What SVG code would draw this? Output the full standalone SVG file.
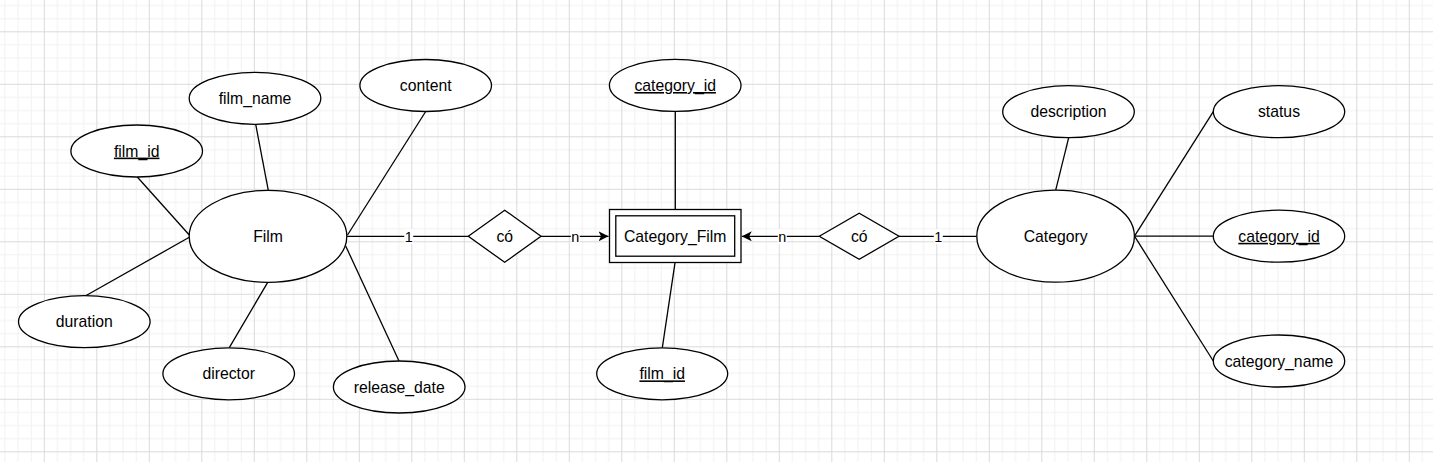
<svg xmlns="http://www.w3.org/2000/svg" width="1433" height="462" viewBox="0 0 1433 462">
<style>
.sh{fill:#fff;stroke:#000;stroke-width:1.3}
.ln{fill:none;stroke:#000;stroke-width:1.3}
.t{font-family:"Liberation Sans",Arial,Helvetica,sans-serif;font-size:15.75px;fill:#000;text-anchor:middle}
.u{text-decoration:underline}
.lb{font-family:"Liberation Sans",Arial,Helvetica,sans-serif;font-size:14.4px;fill:#000;text-anchor:middle}
.lbg{fill:#fff}
</style>
<defs>
<pattern id="grid" patternUnits="userSpaceOnUse" x="43.8" y="31.3" width="52.5" height="52.5">
<rect x="13.125" y="0" width="1" height="52.5" fill="#f1f1f1"/>
<rect x="26.25" y="0" width="1" height="52.5" fill="#f1f1f1"/>
<rect x="39.375" y="0" width="1" height="52.5" fill="#f1f1f1"/>
<rect x="0" y="13.125" width="52.5" height="1" fill="#f1f1f1"/>
<rect x="0" y="26.25" width="52.5" height="1" fill="#f1f1f1"/>
<rect x="0" y="39.375" width="52.5" height="1" fill="#f1f1f1"/>
<rect x="0" y="0" width="1" height="52.5" fill="#dadada"/>
<rect x="0" y="0" width="52.5" height="1" fill="#dadada"/>
</pattern>
<marker id="arr" markerUnits="userSpaceOnUse" viewBox="0 0 10 10" refX="10" refY="5" markerWidth="10" markerHeight="10" orient="auto">
<path d="M10,5 L0,0 L2.6,5 L0,10 Z" fill="#000"/>
</marker>
</defs>
<rect width="1433" height="462" fill="#fff"/>
<rect width="1433" height="462" fill="url(#grid)"/>

<g id="connectors">
<line class="ln" x1="255.7" y1="124.3" x2="268.3" y2="190.3"/>
<line class="ln" x1="425.7" y1="111.5" x2="347.5" y2="235"/>
<line class="ln" x1="137.3" y1="177" x2="189.3" y2="235"/>
<line class="ln" x1="85.7" y1="295.7" x2="189.3" y2="237.3"/>
<line class="ln" x1="229.3" y1="347.7" x2="267.7" y2="282.3"/>
<line class="ln" x1="399" y1="361" x2="345.7" y2="246"/>
<line class="ln" x1="347" y1="236.3" x2="468.3" y2="236.3"/>
<line class="ln" x1="541" y1="236.3" x2="608.5" y2="236.3" marker-end="url(#arr)"/>
<line class="ln" x1="819.3" y1="236.3" x2="741.8" y2="236.3" marker-end="url(#arr)"/>
<line class="ln" x1="899" y1="236.3" x2="976.8" y2="236.3"/>
<line class="ln" x1="675.3" y1="111.5" x2="675.3" y2="209.5"/>
<line class="ln" x1="675" y1="262.8" x2="662.3" y2="347.8"/>
<line class="ln" x1="1068.7" y1="137.7" x2="1055.7" y2="190.2"/>
<line class="ln" x1="1134.5" y1="236.2" x2="1213.3" y2="111.7"/>
<line class="ln" x1="1134.5" y1="236.2" x2="1213.3" y2="236.2"/>
<line class="ln" x1="1134.5" y1="236.2" x2="1213.3" y2="361"/>
<rect class="lbg" x="404.2" y="229" width="9" height="15"/>
<text class="lb" x="408.7" y="241.5">1</text>
<rect class="lbg" x="570.8" y="229" width="9" height="15"/>
<text class="lb" x="575.3" y="241.5">n</text>
<rect class="lbg" x="777.8" y="229" width="9" height="15"/>
<text class="lb" x="782.3" y="241.5">n</text>
<rect class="lbg" x="933.8" y="229" width="9" height="15"/>
<text class="lb" x="938.3" y="241.5">1</text>
</g>

<g id="film">
<ellipse class="sh" cx="268" cy="236.3" rx="78.8" ry="46"/>
<text class="t" x="268" y="241.9">Film</text>
</g>
<g id="film_name">
<ellipse class="sh" cx="255" cy="98.3" rx="65.8" ry="26"/>
<text class="t" x="255" y="103.9">film_name</text>
</g>
<g id="content">
<ellipse class="sh" cx="425.7" cy="85.5" rx="65.8" ry="26"/>
<text class="t" x="425.7" y="91.1">content</text>
</g>
<g id="film_id_attr">
<ellipse class="sh" cx="136.7" cy="151" rx="65.8" ry="26"/>
<text class="t u" x="136.7" y="156.6">film_id</text>
</g>
<g id="duration">
<ellipse class="sh" cx="84.3" cy="321.7" rx="65.8" ry="26"/>
<text class="t" x="84.3" y="327.3">duration</text>
</g>
<g id="director">
<ellipse class="sh" cx="228.7" cy="373.8" rx="65.8" ry="26"/>
<text class="t" x="228.7" y="379.4">director</text>
</g>
<g id="release_date">
<ellipse class="sh" cx="399.2" cy="387" rx="65.8" ry="26"/>
<text class="t" x="399.2" y="392.6">release_date</text>
</g>
<g id="rel_left">
<polygon class="sh" points="468.3,236.3 504.7,210.2 541,236.3 504.7,262.3"/>
<text class="t" x="504.7" y="241.9">có</text>
</g>
<g id="category_film">
<rect class="sh" x="609.5" y="209.5" width="131.5" height="53"/>
<rect class="sh" x="615.8" y="215.8" width="118.9" height="40.4"/>
<text class="t" x="675.2" y="241.9">Category_Film</text>
</g>
<g id="cf_category_id">
<ellipse class="sh" cx="675.2" cy="85.4" rx="65.8" ry="26"/>
<text class="t u" x="675.2" y="91">category_id</text>
</g>
<g id="cf_film_id">
<ellipse class="sh" cx="662.2" cy="373.8" rx="65.5" ry="26"/>
<text class="t u" x="662.2" y="379.4">film_id</text>
</g>
<g id="rel_right">
<polygon class="sh" points="819.3,236.3 859.2,213.3 899,236.3 859.2,259.3"/>
<text class="t" x="859.2" y="241.9">có</text>
</g>
<g id="category">
<ellipse class="sh" cx="1055.6" cy="236.2" rx="78.8" ry="46"/>
<text class="t" x="1055.6" y="241.8">Category</text>
</g>
<g id="description">
<ellipse class="sh" cx="1068.5" cy="111.7" rx="65.8" ry="26"/>
<text class="t" x="1068.5" y="117.3">description</text>
</g>
<g id="status">
<ellipse class="sh" cx="1279" cy="111.7" rx="65.7" ry="26"/>
<text class="t" x="1279" y="117.3">status</text>
</g>
<g id="category_id_attr">
<ellipse class="sh" cx="1279" cy="236.2" rx="65.7" ry="26"/>
<text class="t u" x="1279" y="241.8">category_id</text>
</g>
<g id="category_name">
<ellipse class="sh" cx="1279" cy="361" rx="65.7" ry="26"/>
<text class="t" x="1279" y="366.6">category_name</text>
</g>
</svg>
